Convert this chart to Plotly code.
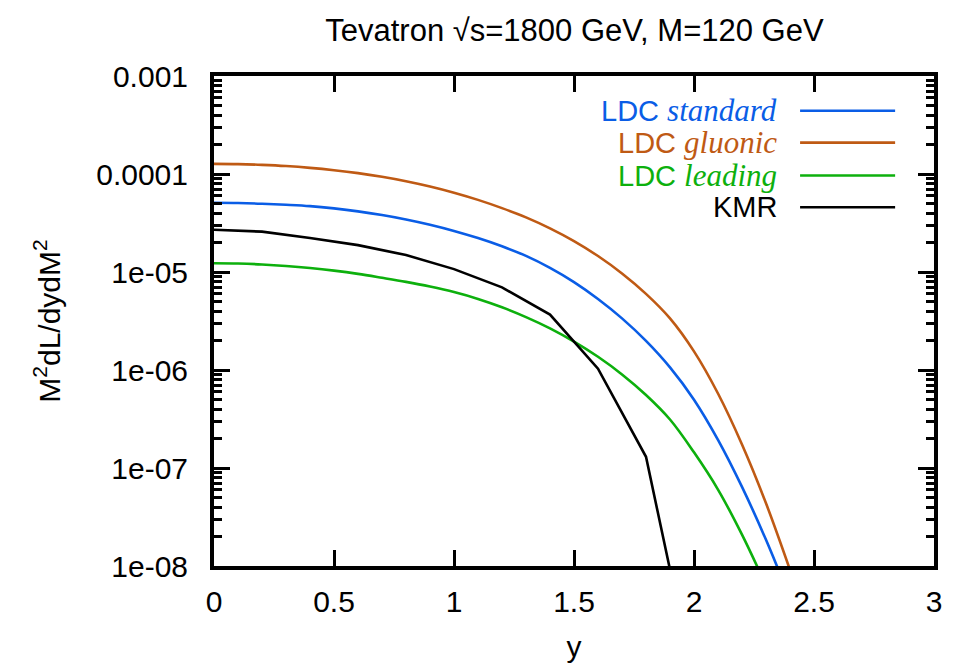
import plotly.graph_objects as go

# ---- data ----
grid_x = [0, 0.1, 0.2, 0.3, 0.4, 0.5, 0.6, 0.7, 0.8, 0.9, 1.0, 1.1, 1.2, 1.3, 1.4, 1.5,
          1.6, 1.7, 1.8, 1.9, 2.0, 2.1, 2.2, 2.3, 2.4]

gluonic_y = [1.268e-4, 1.262e-4, 1.239e-4, 1.205e-4, 1.156e-4, 1.094e-4, 1.021e-4, 9.354e-5,
             8.433e-5, 7.447e-5, 6.442e-5, 5.445e-5, 4.487e-5, 3.606e-5, 2.786e-5, 2.065e-5,
             1.455e-5, 9.661e-6, 5.984e-6, 3.365e-6, 1.549e-6, 5.754e-7, 1.738e-7, 4.365e-8,
             9.120e-9]

standard_y = [5.082e-5, 5.058e-5, 4.977e-5, 4.853e-5, 4.699e-5, 4.457e-5, 4.159e-5, 3.811e-5,
              3.436e-5, 3.034e-5, 2.624e-5, 2.218e-5, 1.828e-5, 1.459e-5, 1.102e-5, 7.889e-6,
              5.309e-6, 3.365e-6, 1.982e-6, 1.064e-6, 4.977e-7, 1.936e-7, 6.412e-8, 1.849e-8,
              4.645e-9]

leading_y = [1.227e-5, 1.219e-5, 1.194e-5, 1.153e-5, 1.099e-5, 1.033e-5, 9.572e-6, 8.730e-6,
             7.925e-6, 7.096e-6, 6.237e-6, 5.309e-6, 4.365e-6, 3.467e-6, 2.661e-6, 1.950e-6,
             1.365e-6, 9.016e-7, 5.559e-7, 3.126e-7, 1.445e-7, 6.026e-8, 2.089e-8, 6.310e-9]

kmr_x = [0, 0.2, 0.4, 0.6, 0.8, 1.0, 1.2, 1.4, 1.6, 1.8, 2.0]
kmr_y = [2.70e-5, 2.58e-5, 2.22e-5, 1.88e-5, 1.49e-5, 1.07e-5, 6.97e-6, 3.68e-6, 1.03e-6, 1.30e-7, 6.5e-10]

ytick_vals = [1e-3, 1e-4, 1e-5, 1e-6, 1e-7, 1e-8]
ytick_text = ["0.001", "0.0001", "1e-05", "1e-06", "1e-07", "1e-08"]
xtick_vals = [0, 0.5, 1, 1.5, 2, 2.5, 3]
xtick_text = ["0", "0.5", "1", "1.5", "2", "2.5", "3"]

series = [
    ("standard", grid_x[:len(standard_y)], standard_y, "#0a5de6", "spline"),
    ("gluonic", grid_x[:len(gluonic_y)], gluonic_y, "#bf5a14", "spline"),
    ("leading", grid_x[:len(leading_y)], leading_y, "#0db00d", "spline"),
    ("KMR", kmr_x, kmr_y, "#000000", "linear"),
]

SANS = "Liberation Sans, Arial, sans-serif"
SERIF = "Liberation Serif"

fig = go.Figure()
for name, xs, ys, col, shape in series:
    fig.add_trace(go.Scatter(x=xs, y=ys, mode="lines", name=name,
                             line=dict(color=col, width=2.6, shape=shape, smoothing=1.0),
                             showlegend=False))

# legend (text right-aligned, sample line to the right, as in the reference)
leg_rows = [0.929, 0.864, 0.797, 0.732]
for (name, xs, ys, col, shape), yy in zip(series, leg_rows):
    if name == "KMR":
        txt = "KMR"
    else:
        txt = ("LDC <span style=\"font-family:%s;font-style:italic;font-size:31px\">%s</span>"
               % (SERIF, name))
    fig.add_annotation(x=0.785, y=yy, xref="paper", yref="paper", text=txt, showarrow=False,
                       xanchor="right", yanchor="middle",
                       font=dict(family=SANS, size=29, color=col))
    fig.add_shape(type="line", xref="paper", yref="paper", x0=0.814, x1=0.946, y0=yy, y1=yy,
                  line=dict(color=col, width=2.6))

axis_common = dict(showline=True, linecolor="black", linewidth=4, mirror="ticks", ticks="inside",
                   ticklen=16, tickwidth=3, tickcolor="black", showgrid=False, zeroline=False,
                   tickfont=dict(family=SANS, size=30, color="black"))

fig.update_xaxes(range=[0, 3], tickvals=xtick_vals, ticktext=xtick_text,
                 title=dict(text="y", font=dict(family=SANS, size=30, color="black"), standoff=20),
                 ticklabelstandoff=6, **axis_common)
fig.update_yaxes(type="log", range=[-8, -3], tickvals=ytick_vals, ticktext=ytick_text,
                 minor=dict(ticks="inside", ticklen=8, tickwidth=3, tickcolor="black", dtick="D1"),
                 title=dict(text="M<sup>2</sup>dL/dydM<sup>2</sup>",
                            font=dict(family=SANS, size=30, color="black"), standoff=28),
                 ticklabelstandoff=16, **axis_common)

fig.update_layout(
    width=959, height=671, autosize=False,
    margin=dict(l=214, r=25, t=76, b=103),
    paper_bgcolor="white", plot_bgcolor="white",
    title=dict(text="Tevatron \u221as=1800 GeV, M=120 GeV", x=0.599, xanchor="center", y=0.955,
               yanchor="middle", font=dict(family=SANS, size=31, color="black")),
)

fig.write_html("out.html")
